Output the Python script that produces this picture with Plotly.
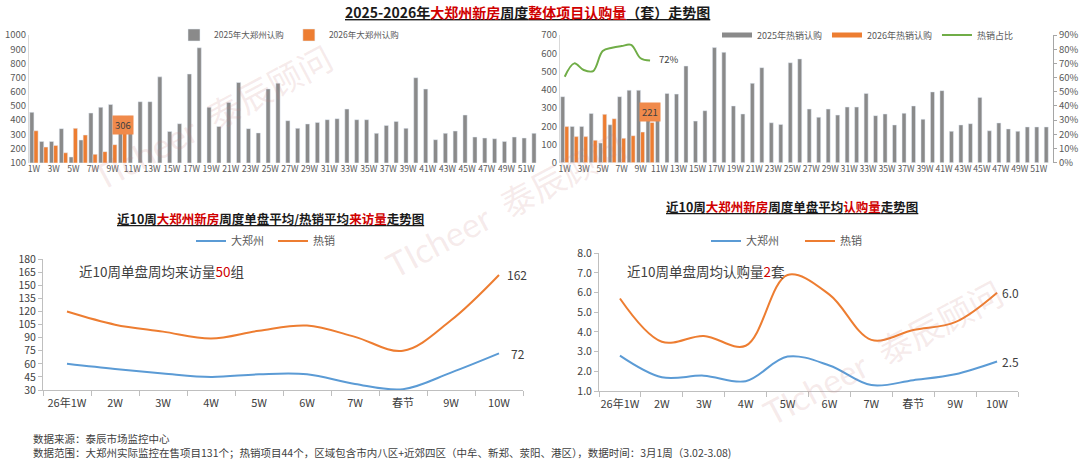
import plotly.graph_objects as go

W, H = 1080, 464
def px(x): return x / W
def py(y): return 1 - y / H

FONT = "Noto Sans CJK SC, Microsoft YaHei, sans-serif"
GREY = "#8A8A8A"
ORANGE = "#ED7D31"
GREEN = "#70AD47"
BLUE = "#5B9BD5"
RED = "#D00000"
TXT = "#404040"

# ---------------- data ----------------
weeks = [f"{i}W" for i in range(1, 53)]
odd_weeks = [f"{i}W" for i in range(1, 53, 2)]
weeks_2026 = weeks[:10]

zz_2025 = [455, 250, 250, 340, 140, 260, 450, 490, 510, 430,
           430, 530, 530, 705, 320, 375, 725, 910, 490, 355,
           525, 665, 340, 310, 620, 660, 396, 342, 373, 384,
           403, 410, 478, 403, 403, 307, 363, 391, 342, 699,
           619, 262, 307, 323, 436, 281, 274, 269, 250, 281,
           274, 307]
zz_2026 = [325, 210, 222, 170, 342, 295, 159, 178, 227, 306]

hot_2025 = [362, 199, 199, 270, 108, 208, 362, 397, 397, 250,
            250, 380, 376, 530, 228, 285, 631, 605, 311, 267,
            435, 521, 219, 210, 548, 569, 294, 249, 294, 261,
            305, 305, 380, 258, 267, 207, 271, 311, 238, 388,
            395, 172, 207, 214, 358, 175, 218, 185, 172, 196,
            196, 196]
hot_2026 = [198, 143, 143, 123, 265, 241, 134, 148, 168, 221]
hot_ratio = [0.606, 0.70, 0.653, 0.646, 0.787, 0.81, 0.822, 0.83, 0.736, 0.72]

recent_weeks = ["26年1W", "2W", "3W", "4W", "5W", "6W", "7W", "春节", "9W", "10W"]
visit_all = [60, 54, 49, 45, 48, 48, 37, 31, 50, 72]
visit_hot = [120, 105, 97, 89, 98, 104, 91, 75, 110, 162]
sub_all = [2.8, 1.7, 1.78, 1.5, 2.75, 2.3, 1.3, 1.55, 1.85, 2.5]
sub_hot = [5.7, 3.5, 3.8, 3.3, 6.9, 5.9, 3.6, 4.1, 4.5, 6.0]

fig = go.Figure()

# top-left
fig.add_bar(x=weeks, y=zz_2025, name="2025年大郑州认购", marker_color=GREY,
            xaxis="x", yaxis="y", legend="legend")
fig.add_bar(x=weeks_2026, y=zz_2026, name="2026年大郑州认购", marker_color=ORANGE,
            xaxis="x", yaxis="y", legend="legend")

# top-right
fig.add_bar(x=weeks, y=hot_2025, name="2025年热销认购", marker_color=GREY,
            xaxis="x2", yaxis="y2", showlegend=False)
fig.add_bar(x=weeks_2026, y=hot_2026, name="2026年热销认购", marker_color=ORANGE,
            xaxis="x2", yaxis="y2", showlegend=False)
fig.add_scatter(x=[None], y=[None], mode="lines", name="2025年热销认购",
                line=dict(color=GREY, width=5), xaxis="x2", yaxis="y2", legend="legend2")
fig.add_scatter(x=[None], y=[None], mode="lines", name="2026年热销认购",
                line=dict(color=ORANGE, width=5), xaxis="x2", yaxis="y2", legend="legend2")
fig.add_scatter(x=weeks_2026, y=hot_ratio, mode="lines", name="热销占比",
                line=dict(color=GREEN, width=2, shape="spline", smoothing=1),
                xaxis="x2", yaxis="y3", legend="legend2")

# bottom-left
fig.add_scatter(x=recent_weeks, y=visit_all, mode="lines", name="大郑州",
                line=dict(color=BLUE, width=2, shape="spline", smoothing=1),
                xaxis="x3", yaxis="y4", legend="legend3")
fig.add_scatter(x=recent_weeks, y=visit_hot, mode="lines", name="热销",
                line=dict(color=ORANGE, width=2, shape="spline", smoothing=1),
                xaxis="x3", yaxis="y4", legend="legend3")

# bottom-right
fig.add_scatter(x=recent_weeks, y=sub_all, mode="lines", name="大郑州",
                line=dict(color=BLUE, width=2, shape="spline", smoothing=1),
                xaxis="x4", yaxis="y5", legend="legend4")
fig.add_scatter(x=recent_weeks, y=sub_hot, mode="lines", name="热销",
                line=dict(color=ORANGE, width=2, shape="spline", smoothing=1),
                xaxis="x4", yaxis="y5", legend="legend4")

small_tick = dict(size=9.5, color="#595959", family=FONT)
xsmall_tick = dict(size=8.6, color="#595959", family=FONT)
bigx_tick = dict(size=11, color=TXT, family=FONT)
bigy_tick = dict(size=10.5, color=TXT, family=FONT)

fig.update_layout(
    width=W, height=H,
    margin=dict(l=0, r=0, t=0, b=0, autoexpand=False),
    paper_bgcolor="white", plot_bgcolor="white",
    font=dict(family=FONT, color=TXT),
    barmode="group", bargap=0.15, bargroupgap=0,
    xaxis=dict(domain=[px(29), px(541)], anchor="y", type="category",
               tickmode="array", tickvals=odd_weeks, ticktext=odd_weeks, tickangle=0,
               tickfont=xsmall_tick, showgrid=False, showline=False, ticks="",
               categoryorder="array", categoryarray=weeks, automargin=False),
    yaxis=dict(domain=[py(162.7), py(35)], anchor="x", range=[100, 1000], dtick=100,
               tickfont=small_tick, showgrid=False, showline=True, linecolor="#D9D9D9",
               ticks="", zeroline=False, automargin=False),
    xaxis2=dict(domain=[px(560), px(1053)], anchor="y2", type="category",
                tickmode="array", tickvals=odd_weeks, ticktext=odd_weeks, tickangle=0,
                tickfont=xsmall_tick, showgrid=False, showline=False, ticks="",
                categoryorder="array", categoryarray=weeks, automargin=False),
    yaxis2=dict(domain=[py(162.7), py(35)], anchor="x2", range=[0, 700], dtick=100,
                tickfont=small_tick, showgrid=False, showline=True, linecolor="#D9D9D9",
                ticks="", zeroline=False, automargin=False),
    yaxis3=dict(overlaying="y2", anchor="x2", side="right", range=[0, 0.9], dtick=0.1,
                tickformat=".0%", tickfont=small_tick, showgrid=False, showline=True,
                linecolor="#A6A6A6", ticks="outside", ticklen=3, tickcolor="#A6A6A6",
                zeroline=False, automargin=False),
    xaxis3=dict(domain=[px(43), px(523)], anchor="y4", type="category", tickangle=0,
                range=[-0.5, 9.5],
                tickfont=bigx_tick, showgrid=False, showline=True, linecolor="#BFBFBF",
                ticks="outside", tickson="boundaries", ticklen=5, tickcolor="#BFBFBF",
                ticklabelstandoff=3, automargin=False),
    yaxis4=dict(domain=[py(390), py(259.3)], anchor="x3", range=[30, 180], dtick=15,
                tickfont=bigy_tick, showgrid=False, showline=True, linecolor="#BFBFBF",
                ticks="outside", ticklen=4, tickcolor="#BFBFBF", zeroline=False,
                automargin=False),
    xaxis4=dict(domain=[px(599), px(1018)], anchor="y5", type="category", tickangle=0,
                range=[-0.5, 9.5],
                tickfont=bigx_tick, showgrid=False, showline=True, linecolor="#BFBFBF",
                ticks="outside", tickson="boundaries", ticklen=5, tickcolor="#BFBFBF",
                ticklabelstandoff=3, automargin=False),
    yaxis5=dict(domain=[py(391), py(253.3)], anchor="x4", range=[1, 8], dtick=1,
                tickformat=".1f", tickfont=bigy_tick, showgrid=False, showline=True,
                linecolor="#BFBFBF", ticks="outside", ticklen=4, tickcolor="#BFBFBF",
                zeroline=False, automargin=False),
    legend=dict(x=px(174), y=py(35), xanchor="left", yanchor="middle", orientation="h",
                font=dict(size=8.5, color="#595959"), bgcolor="rgba(0,0,0,0)",
                itemwidth=30),
    legend2=dict(x=px(717), y=py(35), xanchor="left", yanchor="middle", orientation="h",
                 font=dict(size=9, color="#595959"), bgcolor="rgba(0,0,0,0)",
                 itemwidth=30),
    legend3=dict(x=px(191), y=py(241), xanchor="left", yanchor="middle", orientation="h",
                 font=dict(size=11, color="#595959"), bgcolor="rgba(0,0,0,0)",
                 itemwidth=30, entrywidth=37),
    legend4=dict(x=px(706), y=py(241), xanchor="left", yanchor="middle", orientation="h",
                 font=dict(size=11, color="#595959"), bgcolor="rgba(0,0,0,0)",
                 itemwidth=30, entrywidth=49),
)

ann = []
def red(s):
    return f"<span style='color:{RED}'>{s}</span>"

def paper_text(x, y, text, size, color=TXT, xanchor="center"):
    ann.append(dict(x=px(x), y=py(y), xref="paper", yref="paper", showarrow=False,
                    xanchor=xanchor, yanchor="middle", text=text,
                    font=dict(size=size, color=color)))

# watermarks (drawn first so that text sits above)
for cx, cy in [(212, 118), (505, 205), (883, 352)]:
    ann.append(dict(x=px(cx), y=py(cy), xref="paper", yref="paper", showarrow=False,
                    xanchor="center", yanchor="middle",
                    textangle=-28, text="TIcheer  泰辰顾问",
                    font=dict(size=34, color="rgba(200,130,130,0.17)", family="Lato, Noto Sans CJK SC")))

# titles
paper_text(527, 12, "<b><u>2025-2026年" + red("大郑州新房") + "周度" + red("整体项目认购量") + "（套）走势图</u></b>", 14, "#1a1a1a")
paper_text(270, 218, "<b><u>近10周" + red("大郑州新房") + "周度单盘平均/热销平均" + red("来访量") + "走势图</u></b>", 12.5, "#1a1a1a")
paper_text(792, 207, "<b><u>近10周" + red("大郑州新房") + "周度单盘平均" + red("认购量") + "走势图</u></b>", 12.5, "#1a1a1a")
# sub texts
paper_text(77, 271, "近10周单盘周均来访量" + red("50") + "组", 13.5, xanchor="left")
paper_text(625, 271, "近10周单盘周均认购量" + red("2") + "套", 13.5, xanchor="left")
# footer
paper_text(31, 438, "数据来源：泰辰市场监控中心", 10.5, xanchor="left")
paper_text(31, 452, "数据范围：大郑州实际监控在售项目131个；热销项目44个，区域包含市内八区+近郊四区（中牟、新郑、荥阳、港区），数据时间：3月1周（3.02-3.08)", 10.5, xanchor="left")

# data labels
ann.append(dict(x=weeks_2026[-1], y=365, xref="x", yref="y", showarrow=False,
                text=str(zz_2026[-1]), bgcolor="#F08A4B", borderpad=2,
                font=dict(size=9.5, color=TXT)))
ann.append(dict(x=weeks_2026[-1], y=279, xref="x2", yref="y2", showarrow=False,
                text=str(hot_2026[-1]), bgcolor="#F08A4B", borderpad=2,
                font=dict(size=9.5, color=TXT)))
ann.append(dict(x=weeks_2026[-1], y=0.729, xref="x2", yref="y3", showarrow=False,
                xshift=19, text=f"{round(hot_ratio[-1]*100)}%",
                font=dict(size=9.5, color=TXT)))
ann.append(dict(x=recent_weeks[-1], y=visit_hot[-1], xref="x3", yref="y4", showarrow=False,
                xanchor="left", xshift=6, text=str(visit_hot[-1]), font=dict(size=12, color=TXT)))
ann.append(dict(x=recent_weeks[-1], y=visit_all[-1], xref="x3", yref="y4", showarrow=False,
                xanchor="left", xshift=10, text=str(visit_all[-1]), font=dict(size=12, color=TXT)))
ann.append(dict(x=recent_weeks[-1], y=sub_hot[-1], xref="x4", yref="y5", showarrow=False,
                xanchor="left", xshift=3, text=f"{sub_hot[-1]:.1f}", font=dict(size=12, color=TXT)))
ann.append(dict(x=recent_weeks[-1], y=sub_all[-1], xref="x4", yref="y5", showarrow=False,
                xanchor="left", xshift=3, text=f"{sub_all[-1]:.1f}", font=dict(size=12, color=TXT)))

fig.update_layout(annotations=ann)

fig.write_html("out.html", config={"displayModeBar": False},
               post_script="document.body.style.margin='0';document.body.style.overflow='hidden';")
